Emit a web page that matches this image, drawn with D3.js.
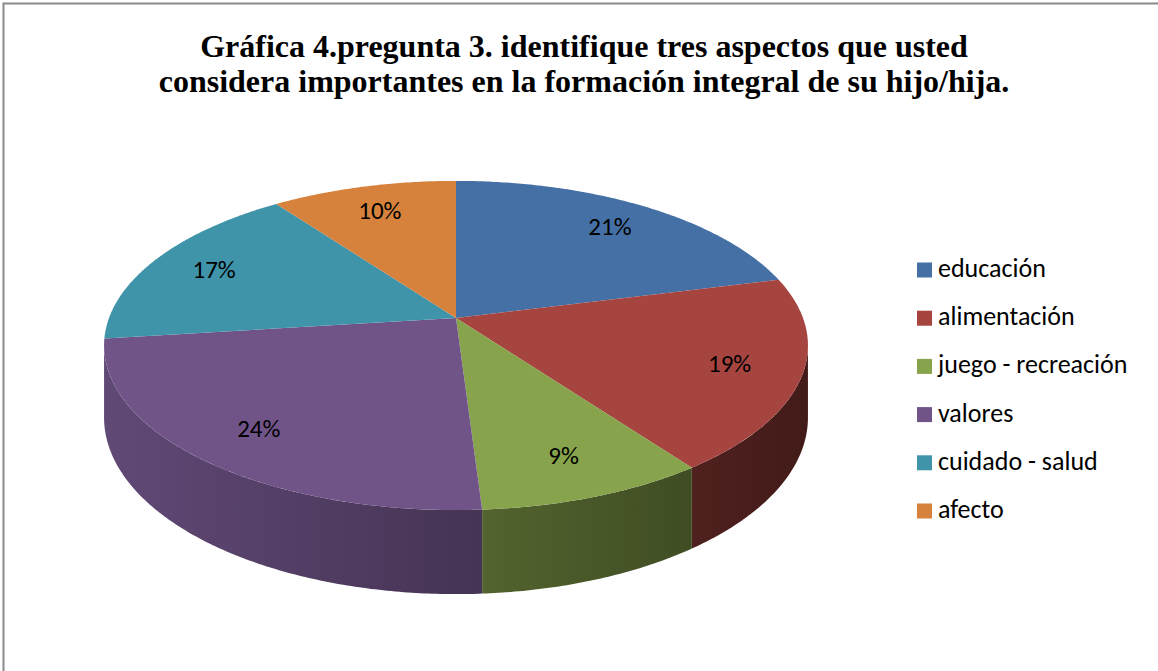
<!DOCTYPE html>
<html>
<head>
<meta charset="utf-8">
<script src="https://cdn.jsdelivr.net/npm/d3@7"></script>
<style>
  body { margin: 0; background: #fff; }
  svg { display: block; }
</style>
</head>
<body>
<script>
// data
var categories = ["educación", "alimentación", "juego - recreación", "valores", "cuidado - salud", "afecto"];
var values = [21, 19, 9, 24, 17, 10];
var colors = ["#4570a5", "#a64440", "#87a34b", "#705488", "#4094aa", "#d7823c"];
var titleLines = ["Gráfica 4.pregunta 3. identifique tres aspectos que usted",
                  "considera importantes en la formación integral de su hijo/hija."];

var w = 1158, h = 671;
var labelFont = "Carlito, Calibri, 'Liberation Sans Narrow', 'Open Sans', sans-serif";

var svg = d3.select("body").append("svg")
    .attr("width", w)
    .attr("height", h);

var defs = svg.append("defs");

// frame (runs off the right and bottom of the picture)
svg.append("rect")
    .attr("x", 3.5).attr("y", 3.5)
    .attr("width", w + 20).attr("height", h + 20)
    .attr("fill", "none")
    .attr("stroke", "#8a8a8a")
    .attr("stroke-width", 2);

// title
svg.append("g").selectAll("text")
  .data(titleLines)
  .enter().append("text")
    .attr("x", 584)
    .attr("y", function(d, i) { return 57 + i * 35; })
    .attr("text-anchor", "middle")
    .attr("font-family", "'Liberation Serif', 'Times New Roman', serif")
    .attr("font-weight", "bold")
    .attr("font-size", 32)
    .attr("fill", "#000")
    .text(function(d) { return d; });

// simple perspective projection of the pie disc
var cx = 456, cy = 318;   // apex of top face
var sx = 347, sy = 160;   // radii
var k = 0.167;            // perspective strength
var depth = 70;           // thickness

function project(theta, r, bottom) {
  var u = r * Math.sin(theta), v = r * Math.cos(theta);
  var den = 1 + k * v;
  return [cx + sx * u / den, cy + ((bottom ? depth : 0) - sy * v) / den];
}

var pie = d3.pie().sort(null).value(function(d) { return d; });
var arcs = pie(values);

var line = d3.line();

function arcPoints(a0, a1, r, bottom) {
  var n = Math.max(2, Math.ceil((a1 - a0) / 0.01));
  var pts = [];
  for (var i = 0; i <= n; i++) pts.push(project(a0 + (a1 - a0) * i / n, r, bottom));
  return pts;
}

// side gradients (lighter left, darker right)
var xLeft = project(-Math.PI / 2 - 0.17, 1)[0], xRight = project(Math.PI / 2 + 0.17, 1)[0];
colors.forEach(function(c, i) {
  var g = defs.append("linearGradient")
      .attr("id", "side" + i)
      .attr("gradientUnits", "userSpaceOnUse")
      .attr("x1", xLeft).attr("x2", xRight)
      .attr("y1", 0).attr("y2", 0);
  g.append("stop").attr("offset", 0).attr("stop-color", d3.color(c).darker(0.4));
  g.append("stop").attr("offset", 1).attr("stop-color", d3.color(c).darker(2.6));
});

// visible part of the outer wall
var visA = Math.acos(-k), visB = 2 * Math.PI - Math.acos(-k);

svg.append("g").selectAll("path")
  .data(arcs.filter(function(d) { return d.endAngle > visA && d.startAngle < visB; }))
  .enter().append("path")
    .attr("d", function(d) {
      var a0 = Math.max(d.startAngle, visA), a1 = Math.min(d.endAngle, visB);
      var pts = arcPoints(a0, a1, 1, false).concat(arcPoints(a0, a1, 1, true).reverse());
      return line(pts) + "Z";
    })
    .attr("fill", function(d) { return "url(#side" + d.index + ")"; });

// top faces
svg.append("g").selectAll("path")
  .data(arcs)
  .enter().append("path")
    .attr("d", function(d) {
      var pts = [project(0, 0, false)].concat(arcPoints(d.startAngle, d.endAngle, 1, false));
      return line(pts) + "Z";
    })
    .attr("fill", function(d) { return colors[d.index]; });

// percent labels
var total = d3.sum(values);
svg.append("g").selectAll("text")
  .data(arcs)
  .enter().append("text")
    .attr("transform", function(d) {
      var p = project((d.startAngle + d.endAngle) / 2, 0.8, false);
      return "translate(" + p[0] + "," + p[1] + ")";
    })
    .attr("text-anchor", "middle")
    .attr("dy", "0.35em")
    .attr("font-family", labelFont)
    .attr("font-size", 25)
    .attr("fill", "#000")
    .text(function(d) { return Math.round(d.value / total * 100) + "%"; });

// legend
var legend = svg.append("g")
    .attr("transform", "translate(917,270)");

var row = legend.selectAll("g")
  .data(categories)
  .enter().append("g")
    .attr("transform", function(d, i) { return "translate(0," + i * 48.2 + ")"; });

row.append("rect")
    .attr("x", 0).attr("y", -7.5)
    .attr("width", 15).attr("height", 15)
    .attr("fill", function(d, i) { return colors[i]; });

row.append("text")
    .attr("x", 21)
    .attr("y", 7)
    .attr("font-family", labelFont)
    .attr("font-size", 26)
    .attr("fill", "#000")
    .text(function(d) { return d; });
</script>
</body>
</html>
